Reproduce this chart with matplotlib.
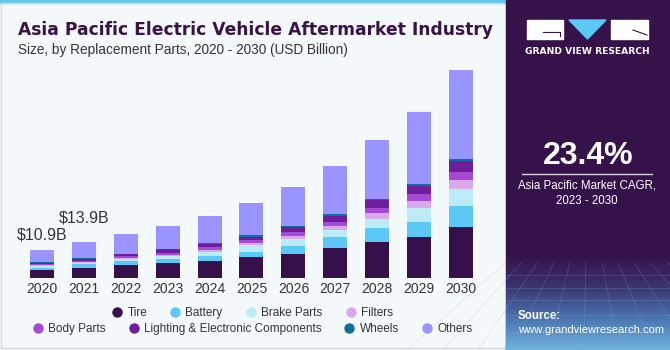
import matplotlib.pyplot as plt
import numpy as np
from matplotlib.patches import Rectangle, Polygon
from matplotlib.colors import LinearSegmentedColormap

# data (USD billion)
years = ['2020', '2021', '2022', '2023', '2024', '2025', '2026', '2027', '2028', '2029', '2030']
tire = [3.2, 4.0, 4.8, 5.6, 6.6, 8.0, 9.3, 11.5, 13.6, 15.6, 19.4]
battery = [0.65, 1.26, 1.53, 1.53, 1.65, 2.15, 3.07, 4.06, 5.36, 6.0, 8.3]
brake = [0.65, 0.54, 0.77, 1.15, 1.69, 2.3, 2.57, 2.95, 3.83, 5.1, 6.5]
filters = [0.38, 0.5, 0.38, 0.65, 0.88, 0.92, 1.26, 1.26, 1.92, 2.68, 3.18]
body = [0.38, 0.38, 0.77, 0.65, 0.88, 1.0, 1.53, 1.8, 2.18, 2.84, 3.22]
lighting = [0.65, 0.65, 0.77, 1.38, 1.42, 1.3, 1.65, 2.03, 2.8, 2.91, 4.33]
wheels = [0.27, 0.5, 0.27, 0.27, 0.27, 0.61, 0.38, 1.03, 0.65, 0.92, 0.77]
others = [4.7, 6.1, 7.55, 8.54, 10.46, 12.41, 15.1, 18.1, 22.6, 27.6, 34.1]

series = [('Tire', tire, '#36104A'),
          ('Battery', battery, '#5BC8F5'),
          ('Brake Parts', brake, '#BDEBFA'),
          ('Filters', filters, '#D8A9EC'),
          ('Body Parts', body, '#A64AD6'),
          ('Lighting & Electronic Components', lighting, '#6E1E9A'),
          ('Wheels', wheels, '#0D6F99'),
          ('Others', others, '#9A94FF')]

labels = ['$10.9B', '$13.9B']
label_y = [16.6, 22.8]

W, H = 670, 350
fig = plt.figure(figsize=(6.7, 3.5), dpi=100)
fig.patch.set_facecolor('#F4F9FC')

# frame / decorations in pixel coords
bg = fig.add_axes([0, 0, 1, 1])
bg.set_xlim(0, W)
bg.set_ylim(H, 0)
bg.axis('off')
bg.add_patch(Rectangle((0, 0), 506, 3, color='#62C6EE'))
bg.add_patch(Rectangle((0.5, 3), 505, 345, fill=False, ec='#D5D9DD', lw=1))

# right panel
bg.add_patch(Rectangle((506, 0), 164, 350, color='#36124A'))
grad = np.linspace(0, 1, 100).reshape(-1, 1)
cm = LinearSegmentedColormap.from_list('p', ['#36124A', '#3B3470', '#4A74B0', '#6FB3DC'])
bg.imshow(grad, cmap=cm, aspect='auto', extent=(506, 670, 350, 255), zorder=1)
for k in range(12):
    xs = 506 + k * 16
    bg.plot([xs, 588 + (xs - 588) * 2.2], [262, 350], color='#8FB0E0', lw=0.4, alpha=0.35, zorder=2)
for yy in [275, 288, 300, 315, 332]:
    bg.plot([506, 670], [yy, yy], color='#8FB0E0', lw=0.4, alpha=0.35, zorder=2)

# logo
bg.add_patch(Rectangle((527, 20), 36, 19, color='white', zorder=3))
bg.plot([543, 560], [32, 32], color='#36124A', lw=0.8, zorder=4)
bg.plot([560, 560], [32, 36], color='#36124A', lw=0.8, zorder=4)
bg.add_patch(Polygon([(569, 20), (606, 20), (587.5, 39)], color='#5BC8F5', zorder=3))
bg.add_patch(Rectangle((611, 20), 37, 19, color='white', zorder=3))
bg.plot([633, 647], [30, 35], color='#36124A', lw=0.8, zorder=4)
bg.text(587.5, 51, 'GRAND VIEW RESEARCH', color='white', fontsize=6.6, fontweight='bold',
        ha='center', va='center', family='DejaVu Sans')

bg.text(588, 156, '23.4%', color='white', fontsize=23, fontweight='bold',
        ha='center', va='center', family='Liberation Sans')
bg.plot([522, 652], [173.5, 173.5], color='#D8D0E0', lw=1)
bg.text(587, 186, 'Asia Pacific Market CAGR,', color='white', fontsize=8.3,
        ha='center', va='center', family='Liberation Sans')
bg.text(587, 201, '2023 - 2030', color='white', fontsize=8.3,
        ha='center', va='center', family='Liberation Sans')
bg.text(518, 316, 'Source:', color='white', fontsize=8.3, fontweight='bold',
        ha='left', va='center', family='Liberation Sans', zorder=5)
bg.text(518, 330, 'www.grandviewresearch.com', color='white', fontsize=8.1,
        ha='left', va='center', family='Liberation Sans', zorder=5)

# titles
bg.text(18, 30, 'Asia Pacific Electric Vehicle Aftermarket Industry', color='#3A1248',
        fontsize=12.3, fontweight='heavy', ha='left', va='center', family='DejaVu Sans')
bg.text(18, 50, 'Size, by Replacement Parts, 2020 - 2030 (USD Billion)', color='#333333',
        fontsize=9.8, ha='left', va='center', family='Liberation Sans')

# bar chart
ax = fig.add_axes([20 / W, 72 / H, 465 / W, 218 / H])
ax.set_facecolor('none')
x = np.arange(len(years))
bottom = np.zeros(len(years))
handles = []
for name, vals, col in series:
    ax.bar(x, vals, 0.573, bottom=bottom, color=col, label=name, zorder=2)
    bottom += np.array(vals)
    handles.append(plt.Line2D([], [], marker='o', ls='', color=col, markersize=6.5, label=name))

for i, t in enumerate(labels):
    ax.text(x[i], label_y[i], t, ha='center', va='center', fontsize=11.5,
            color='#333333', family='Liberation Sans')

ax.set_xlim(-0.525, 10.573)
ax.set_ylim(0, 83.5)
ax.set_xticks(x)
ax.set_xticklabels(years, fontsize=10, color='#333333', family='Liberation Sans')
ax.tick_params(axis='x', length=0, pad=3)
ax.set_yticks([])
for s in ax.spines.values():
    s.set_visible(False)

legkw = dict(loc='center', ncol=4, frameon=False, handletextpad=0.35, columnspacing=1.9,
             borderpad=0, handlelength=1.0, prop={'family': 'Liberation Sans', 'size': 8.5})
leg1 = fig.legend(handles=handles[:4], bbox_to_anchor=(252 / W, 1 - 313 / H), **legkw)
leg2 = fig.legend(handles=handles[4:], bbox_to_anchor=(252 / W, 1 - 329 / H), **legkw)
for leg in (leg1, leg2):
    for t in leg.get_texts():
        t.set_color('#333333')

fig.savefig('out.png', dpi=100, facecolor=fig.get_facecolor())
